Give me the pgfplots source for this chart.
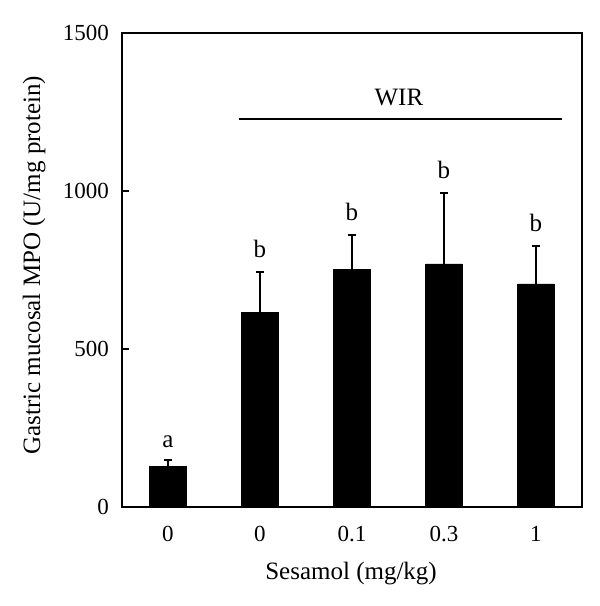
\documentclass[border=0pt]{standalone}
\usepackage{pgfplots}
\pgfplotsset{compat=1.18}
\usepackage{fontspec}
\setmainfont{Liberation Serif}
\newcommand{\fs}{\fontsize{11.5}{13}\selectfont}
\newcommand{\fl}{\fontsize{12.5}{14}\selectfont}
\begin{document}
\begin{tikzpicture}
\begin{axis}[name=ax, scale only axis, width=230pt, height=237pt,
  xmin=-0.5, xmax=4.5, ymin=0, ymax=1500,
  ytick={0,500,1000,1500}, xtick={0,1,2,3,4}, xticklabels={0,0,0.1,0.3,1},
  tick align=inside, major tick length=3.5pt,
  x tick style={draw=none}, ytick pos=left,
  axis line style={line width=0.75pt}, y tick style={line width=0.75pt, black},
  /pgf/number format/assume math mode=true,
  /pgf/number format/1000 sep={},
  tick label style={font=\fs},
  xticklabel style={yshift=-6pt},
  yticklabel style={xshift=-3pt},
  label style={font=\fl},
  xlabel={Sesamol (mg/kg)}, ylabel={Gastric mucosal MPO (U/mg protein)},
  xlabel style={at={(axis description cs:0.498,-0.141)}, anchor=center},
  ylabel style={at={(axis description cs:-0.191,0.51)}, anchor=center},
  clip=false]
\addplot[ybar, bar width=0.4, fill=black, draw=black,
  error bars/.cd, y dir=plus, y explicit,
  error bar style={line width=0.75pt, black},
  error mark options={rotate=90, mark size=2pt, line width=0.75pt, black}]
  table[x=x, y=y, y error=e] {
x y e
0 127 22
1 617 127
2 753 108
3 769 225
4 706 120
};
\node[anchor=base, font=\fl] at (axis cs:0,149) [yshift=6pt] {a};
\node[anchor=base, font=\fl] at (axis cs:1,744) [yshift=7pt] {b};
\node[anchor=base, font=\fl] at (axis cs:2,861) [yshift=7pt] {b};
\node[anchor=base, font=\fl] at (axis cs:3,994) [yshift=7pt] {b};
\node[anchor=base, font=\fl] at (axis cs:4,826) [yshift=7pt] {b};
\draw[line width=0.75pt] (axis cs:0.77,1228) -- (axis cs:4.28,1228);
\node[anchor=base, font=\fl] at (axis cs:2.51,1272) {WIR};
\end{axis}
\pgfresetboundingbox
\path ([xshift=-61pt,yshift=-49.5pt]ax.south west) rectangle ([xshift=9pt,yshift=16.5pt]ax.north east);
\end{tikzpicture}
\end{document}
